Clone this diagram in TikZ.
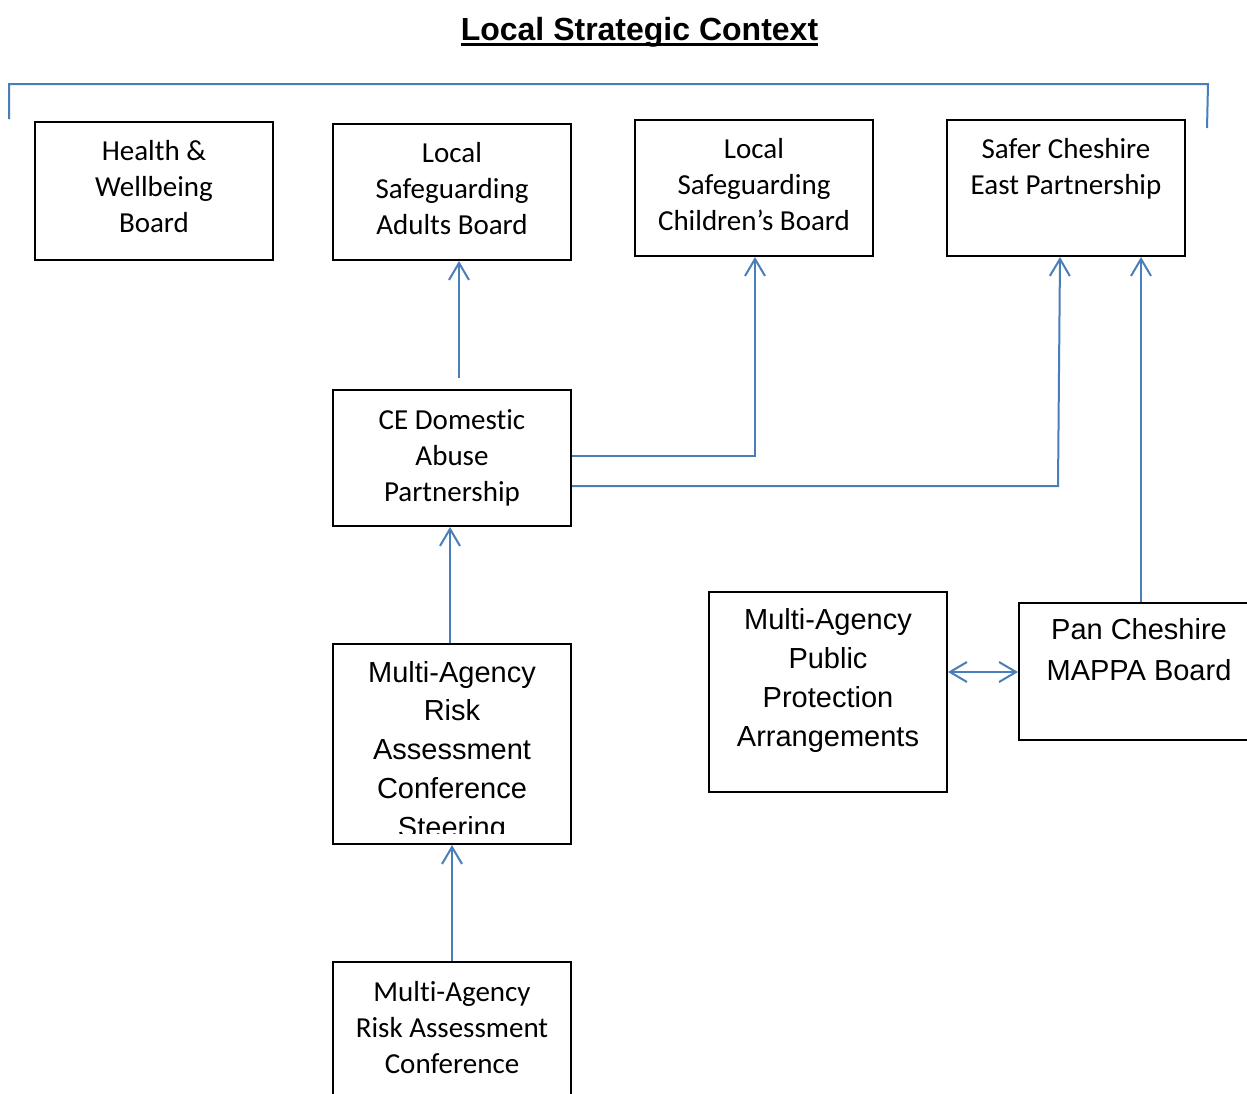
\documentclass[tikz,border=0pt]{standalone}
\usepackage{fontspec}
\setmainfont[Ligatures=NoCommon]{Carlito}
\newfontfamily\arialf{Liberation Sans}
\usetikzlibrary{arrows.meta}
\definecolor{wordblue}{HTML}{4A7EBB}
\tikzset{
  box/.style={draw=black, line width=2pt, minimum width=238pt, inner sep=0pt},
  calitxt/.style={align=center, anchor=base, inner sep=0pt, font=\fontsize{29}{36}\selectfont},
  arialtxt/.style={align=center, anchor=base, inner sep=0pt, font=\arialf\fontsize{29}{38.7}\selectfont},
  conn/.style={draw=wordblue, line width=2pt, -{Straight Barb[length=17pt,width=20pt]}},
  bconn/.style={draw=wordblue, line width=2pt, {Straight Barb[length=17pt,width=20pt]}-{Straight Barb[length=17pt,width=20pt]}},
  bracketline/.style={draw=wordblue, line width=2pt}
}
\begin{document}
\begin{tikzpicture}[x=1pt,y=-1pt]
\useasboundingbox (0,0) rectangle (1247,1093);
\clip (0,0) rectangle (1247,1093);
\fill[white] (0,0) rectangle (1247,1093);

% title
\node[anchor=base, inner sep=0pt, font=\arialf\bfseries\fontsize{32}{38}\selectfont] (title) at (639.5,40) {Local Strategic Context};
\draw[line width=3pt] ([yshift=-4.5pt]title.base west) -- ([yshift=-4.5pt]title.base east);

% bracket
\draw[bracketline] (9,119) -- (9,84) -- (1208,84) -- (1207,128);

% boxes
\node[box, minimum height=138pt] (hw) at (154,191) {};
\node[box, minimum height=136pt] (lsab) at (452,192) {};
\node[box, minimum height=136pt] (lscb) at (754,188) {};
\node[box, minimum height=136pt] (scep) at (1066,188) {};
\node[box, minimum height=136pt] (cedap) at (452,458) {};
\node[box, minimum height=200pt] (maracs) at (452,744) {};
\node[box, minimum height=200pt] (mappa) at (828,692) {};
\node[box, minimum height=137pt, minimum width=240pt] (pan) at (1139,671.5) {};
\node[box, minimum height=136pt] (marac) at (452,1030) {};

% texts (anchor base = baseline of last line)
\node[calitxt] (hwt) at (154,232) {Health \&\\Wellbeing\\Board};
\node[calitxt] (lsabt) at (452,234) {Local\\Safeguarding\\Adults Board};
\node[calitxt] (lscbt) at (754,230) {Local\\Safeguarding\\Children’s Board};
\node[calitxt] (scept) at (1066,194) {Safer Cheshire\\East Partnership};
\node[calitxt] (cedapt) at (452,501) {CE Domestic\\Abuse\\Partnership};
\begin{scope}
\clip (334,645) rectangle (570,833);
\node[arialtxt] (maracst) at (452,837) {Multi-Agency\\Risk\\Assessment\\Conference\\Steering};
\end{scope}
\node[arialtxt] (mappat) at (828,746) {Multi-Agency\\Public\\Protection\\Arrangements};
\node[arialtxt, font=\arialf\fontsize{29}{40.5}\selectfont] (pant) at (1139,680) {Pan Cheshire\\MAPPA Board};
\node[calitxt] (maract) at (452,1073) {Multi-Agency\\Risk Assessment\\Conference};

% connectors
\coordinate (c1) at (459,378);
\draw[conn] (c1) -- (c1 |- lsab.south);
\draw[conn] (cedap.east |- 0,456) -- (755,456) -- (755,0 |- lscb.south);
\draw[conn] (cedap.east |- 0,486) -- (1058,486) -- (1060,0 |- scep.south);
\draw[conn] (1141,0 |- pan.north) -- (1141,0 |- scep.south);
\draw[conn] (450,0 |- maracs.north) -- (450,0 |- cedap.south);
\draw[conn] (452,0 |- marac.north) -- (452,0 |- maracs.south);
\draw[bconn] (mappa.east |- 0,672) -- (pan.west |- 0,672);
\end{tikzpicture}
\end{document}
